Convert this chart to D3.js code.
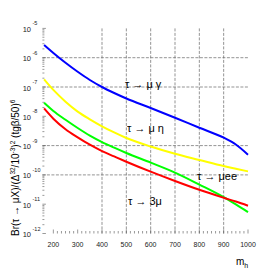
<!DOCTYPE html>
<html>
<head>
<meta charset="utf-8">
<script src="https://cdn.jsdelivr.net/npm/d3@7"></script>
<style>
  html, body { margin: 0; padding: 0; background: #fff; }
  svg { display: block; font-family: "Liberation Sans", Arial, sans-serif; }
</style>
</head>
<body>
<svg id="chart" width="276" height="276"></svg>
<script>
// Higgs mass values where the curves were read
const mh = [162, 200, 250, 300, 350, 400, 450, 500, 600, 700, 800, 900, 950, 1000];

// branching ratios
const muGamma = [2.71e-6, 1.45e-6, 6.7e-7, 3.3e-7, 1.73e-7, 1.0e-7, 6.24e-8, 4.06e-8, 1.92e-8, 8.9e-9, 4.06e-9, 1.87e-9, 1.09e-9, 4.89e-10];
const muEta   = [1.82e-7, 7.94e-8, 3.16e-8, 1.45e-8, 7.9e-9, 4.57e-9, 2.82e-9, 1.82e-9, 9.3e-10, 5.25e-10, 3.24e-10, 2.0e-10, 1.62e-10, 1.32e-10];
const muEE    = [2.88e-8, 1.51e-8, 7.6e-9, 3.98e-9, 2.19e-9, 1.32e-9, 8.5e-10, 5.6e-10, 2.63e-10, 1.2e-10, 4.68e-11, 1.74e-11, 9.8e-12, 5.37e-12];
const threeMu = [1.86e-8, 8.3e-9, 3.63e-9, 1.91e-9, 1.07e-9, 6.5e-10, 4.27e-10, 2.82e-10, 1.29e-10, 6.2e-11, 3.1e-11, 1.66e-11, 1.23e-11, 8.9e-12];

const xLabels = [200, 300, 400, 500, 600, 700, 800, 900, 1000];
const xGrid = [400, 500, 600, 700, 800, 900];
const yExp = [-5, -6, -7, -8, -9, -10, -11, -12];
const yGrid = [1e-6, 1e-7, 1e-9, 1e-10];

const svg = d3.select("#chart");

const x = d3.scaleLinear().domain([155, 1000]).range([42.4, 248]);
const y = d3.scaleLog().domain([1e-12, 1e-5]).range([233.5, 28.4]);

const gridColor = "#666";

// grid
svg.append("g").selectAll("line")
    .data(yGrid)
    .enter().append("line")
    .attr("x1", x(155)).attr("x2", x(1000))
    .attr("y1", d => y(d)).attr("y2", d => y(d))
    .attr("stroke", gridColor).attr("stroke-width", 0.7)
    .attr("stroke-dasharray", "3,1.5");

svg.append("g").selectAll("line")
    .data(xGrid)
    .enter().append("line")
    .attr("x1", d => x(d)).attr("x2", d => x(d))
    .attr("y1", y(1e-5)).attr("y2", y(1e-12))
    .attr("stroke", gridColor).attr("stroke-width", 0.7)
    .attr("stroke-dasharray", "3,1.5");

// y ticks (log, major and minor)
const yTicks = [];
yExp.forEach(e => {
    yTicks.push({ v: Math.pow(10, e), major: true });
    if (e > -5) return;
    for (let k = 2; k <= 9; k++) yTicks.push({ v: k * Math.pow(10, e), major: false });
});
svg.append("g").selectAll("line")
    .data(yTicks.filter(d => d.v <= 1e-5))
    .enter().append("line")
    .attr("x1", x(155)).attr("x2", d => x(155) + (d.major ? 3.5 : 2))
    .attr("y1", d => y(d.v)).attr("y2", d => y(d.v))
    .attr("stroke", "#555").attr("stroke-width", 0.6);

// x ticks
const xTicks = d3.range(0, 51).map(i => 200 + i * 100 / 6).filter(v => v <= 1000.01);
svg.append("g").selectAll("line")
    .data(xTicks)
    .enter().append("line")
    .attr("x1", d => x(d)).attr("x2", d => x(d))
    .attr("y1", y(1e-12)).attr("y2", (d, i) => y(1e-12) - (i % 6 === 0 ? 4 : 2.5))
    .attr("stroke", "#555").attr("stroke-width", 0.6);

// y labels
const yl = svg.append("g").selectAll("g")
    .data(yExp)
    .enter().append("g");
yl.append("text")
    .attr("x", 31).attr("y", d => y(Math.pow(10, d)) + 3.5)
    .attr("text-anchor", "end")
    .style("font-size", "7.5px").attr("fill", "#222")
    .text("10");
yl.append("text")
    .attr("x", 32.5).attr("y", d => y(Math.pow(10, d)) - 3)
    .style("font-size", "5.5px").attr("fill", "#222")
    .text(d => d);

// x labels
svg.append("g").selectAll("text")
    .data(xLabels)
    .enter().append("text")
    .attr("x", d => x(d)).attr("y", 247.3)
    .attr("text-anchor", "middle")
    .style("font-size", "7px").attr("fill", "#222")
    .text(d => d);

// curves
const line = d3.line()
    .x(d => x(d[0]))
    .y(d => y(d[1]))
    .curve(d3.curveMonotoneX);

const series = [
    { vals: muGamma, color: "#0000ff" },
    { vals: muEta, color: "#ffff00" },
    { vals: muEE, color: "#00ff00" },
    { vals: threeMu, color: "#ff0000" }
];
series.forEach(s => {
    svg.append("path")
        .datum(mh.map((m, i) => [m, s.vals[i]]))
        .attr("d", line)
        .attr("fill", "none")
        .attr("stroke", s.color)
        .attr("stroke-width", 2);
});

// annotations
const notes = [
    { t: "τ → μ γ", x: 125, y: 87.5 },
    { t: "τ → μ η", x: 127, y: 131.5 },
    { t: "τ → μee", x: 197, y: 180 },
    { t: "τ → 3μ", x: 128, y: 204.5 }
];
svg.append("g").selectAll("text")
    .data(notes)
    .enter().append("text")
    .attr("x", d => d.x).attr("y", d => d.y)
    .style("font-size", "11px").attr("fill", "#000")
    .text(d => d.t);

// axis titles
const yt = svg.append("text")
    .attr("transform", "translate(19,236) rotate(-90)")
    .style("font-size", "10px").attr("fill", "#000");
yt.append("tspan").text("Br(τ → μX)/(Δ");
yt.append("tspan").attr("dy", -4).style("font-size", "6.5px").text("32");
yt.append("tspan").attr("dy", 4).text("/10");
yt.append("tspan").attr("dy", -4).style("font-size", "6.5px").text("-3");
yt.append("tspan").attr("dy", 4).text(")");
yt.append("tspan").attr("dy", -4).style("font-size", "6.5px").text("2");
yt.append("tspan").attr("dy", 4).text(" (tgβ/50)");
yt.append("tspan").attr("dy", -4).style("font-size", "6.5px").text("6");

const xt = svg.append("text")
    .attr("x", 236).attr("y", 265)
    .style("font-size", "10px").attr("fill", "#000");
xt.append("tspan").text("m");
xt.append("tspan").attr("dy", 3).style("font-size", "7px").text("h");
</script>
</body>
</html>
